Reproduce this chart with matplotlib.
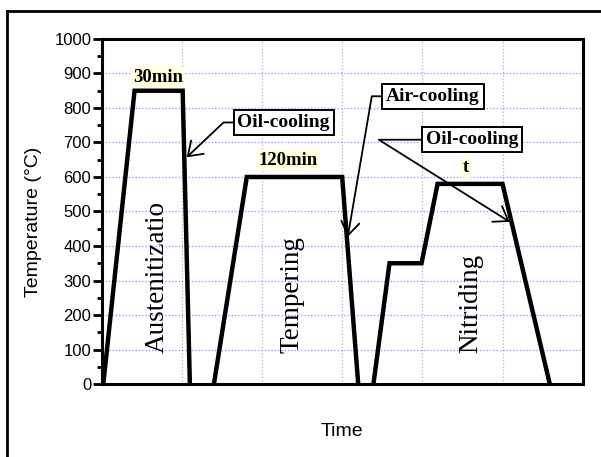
import math
import matplotlib
matplotlib.use('Agg')
import matplotlib.pyplot as plt
from matplotlib.lines import Line2D

# heat treatment route (time axis has no units, temperature in degC)
aus_time = [0.02, 0.41, 1.01, 1.10]
aus_temp = [0, 850, 850, 0]
tem_time = [1.40, 1.81, 3.00, 3.20]
tem_temp = [0, 600, 600, 0]
nit_time = [3.39, 3.59, 3.99, 4.19, 5.00, 5.59]
nit_temp = [0, 350, 350, 580, 580, 0]

y_ticks = [0, 100, 200, 300, 400, 500, 600, 700, 800, 900, 1000]
x_grid = [1, 2, 3, 4, 5]

stage_names = ['Austenitizatio', 'Tempering', 'Nitriding']
stage_x = [0.69, 2.38, 4.61]

hold_labels = ['30min', '120min', 't']
hold_x = [0.70, 2.33, 4.54]
hold_y = [889, 649, 627]

cool_labels = ['Oil-cooling', 'Air-cooling', 'Oil-cooling']
cool_box = [(2.27, 758), (4.13, 834), (4.62, 708)]
cool_knee = [(1.52, 758), (3.37, 834), (3.46, 708)]
cool_tip = [(1.06, 657), (3.07, 427), (5.09, 470)]

serif = 'Liberation Serif'
sans = 'Liberation Sans'

fig = plt.figure(figsize=(6.01, 4.57), dpi=100)
ax = fig.add_axes([0.1692, 0.1597, 0.8003, 0.755])

# outer frame (only left and top edges are visible in the crop)
fig.add_artist(Line2D([0.0116, 0.0116], [0.0, 0.976], transform=fig.transFigure, color='black', lw=2))
fig.add_artist(Line2D([0.0116, 1.0], [0.976, 0.976], transform=fig.transFigure, color='black', lw=2))

for t, T in [(aus_time, aus_temp), (tem_time, tem_temp), (nit_time, nit_temp)]:
    ax.plot(t, T, color='black', lw=3.2, solid_joinstyle='miter', zorder=3)

ax.set_xlim(0, 6)
ax.set_ylim(0, 1000)
ax.set_xticks(x_grid)
ax.set_xticklabels([])
ax.tick_params(axis='x', length=0)
ax.set_yticks(y_ticks)
ax.set_yticks([v + 50 for v in y_ticks[:-1]], minor=True)
ax.tick_params(axis='y', which='major', direction='out', length=6.5, width=2, pad=1, labelsize=12)
ax.tick_params(axis='y', which='minor', direction='out', length=3.5, width=2)
for lab in ax.get_yticklabels():
    lab.set_family(sans)

ax.grid(axis='y', color='#8c8cff', ls=':', lw=0.9)
ax.grid(axis='x', color='#b0b0b0', ls=':', lw=0.9)
for sp in ax.spines.values():
    sp.set_linewidth(2.2)

ax.set_ylabel('Temperature (°C)', family=sans, fontsize=14)
ax.yaxis.set_label_coords(-0.125, 0.471)
ax.set_xlabel('Time', family=sans, fontsize=14)
ax.xaxis.set_label_coords(0.5, -0.114)

for name, x in zip(stage_names, stage_x):
    ax.text(x, 90, name, rotation=90, ha='center', va='bottom', family=serif, fontsize=19.5, zorder=4)

for lab, x, y in zip(hold_labels, hold_x, hold_y):
    ax.text(x, y, lab, ha='center', va='center', family=serif, fontweight='bold', fontsize=13.5,
            bbox=dict(boxstyle='square,pad=0.1', fc='#ffffdc', ec='none'), zorder=4)

for lab, box, knee, tip in zip(cool_labels, cool_box, cool_knee, cool_tip):
    p_tip = ax.transData.transform(tip)
    p_knee = ax.transData.transform(knee)
    ang = math.degrees(math.atan2(p_knee[1] - p_tip[1], p_knee[0] - p_tip[0]))
    ax.annotate(lab, xy=tip, xytext=box, ha='center', va='center', family=serif,
                fontweight='bold', fontsize=14, zorder=5,
                bbox=dict(boxstyle='square,pad=0.2', fc='white', ec='black', lw=1.4),
                arrowprops=dict(arrowstyle='->,head_length=0.95,head_width=0.66', mutation_scale=10,
                                lw=1.3, color='black', shrinkA=0, shrinkB=0,
                                connectionstyle='angle,angleA=0,angleB=%.1f,rad=0' % ang))

fig.savefig('out.png', dpi=100)
